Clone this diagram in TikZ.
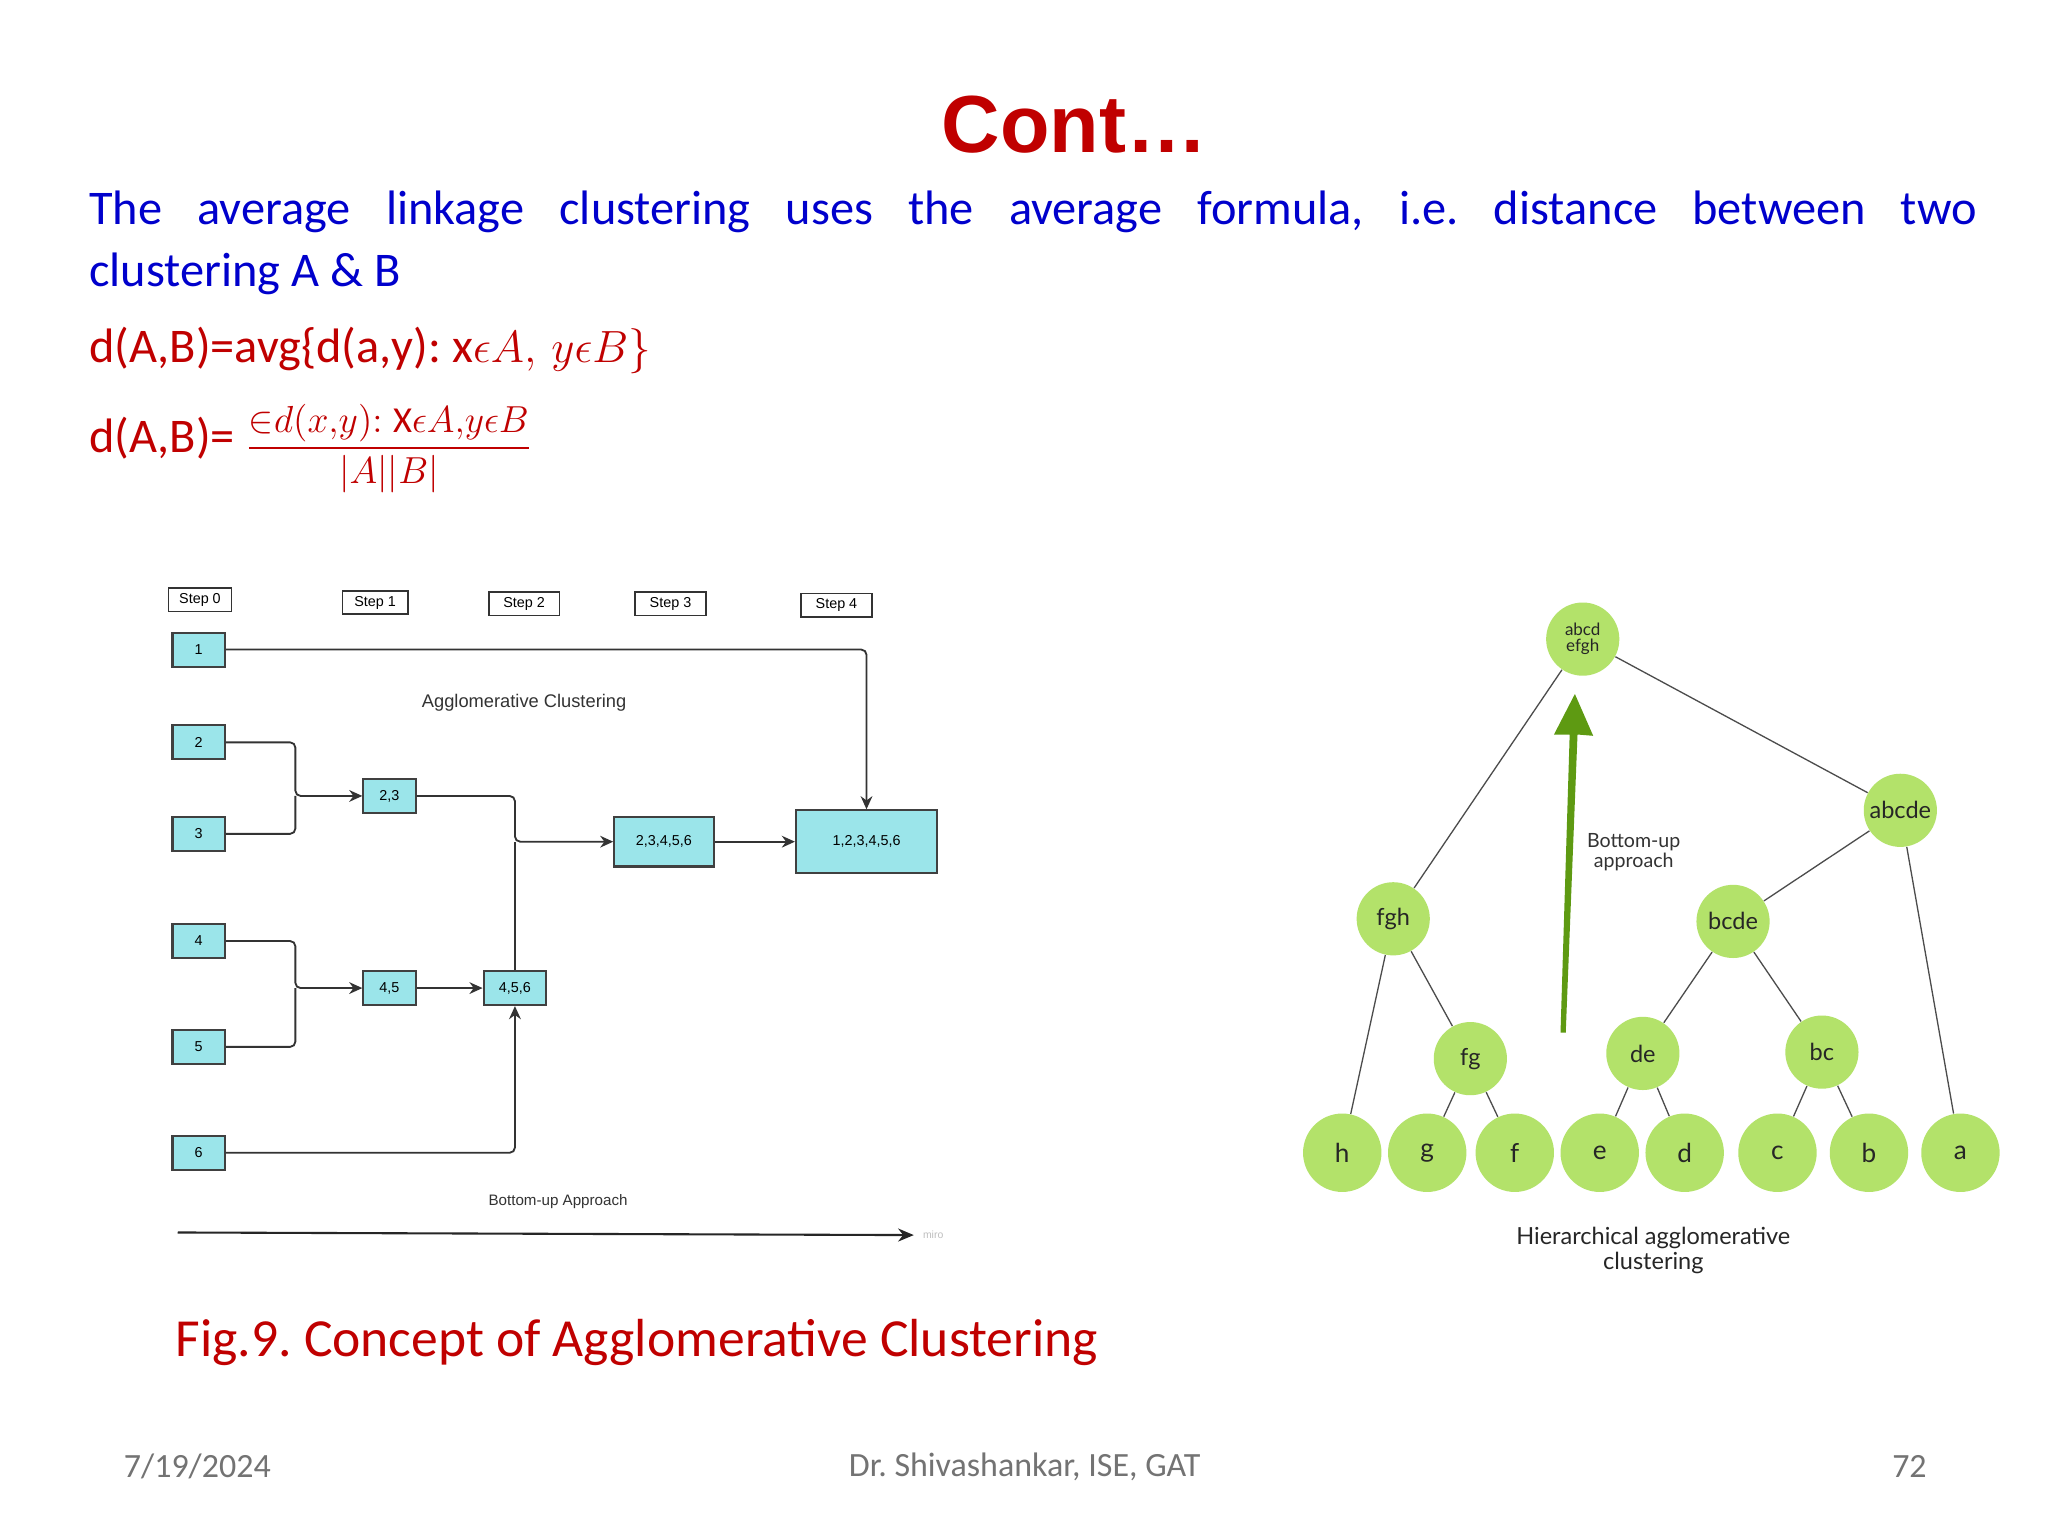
\documentclass[tikz,border=0pt]{standalone}
\usepackage{amsmath}
\usepackage{fontspec}
\setmainfont{Carlito}
\newfontfamily\arialf{Liberation Sans}
\newfontfamily\latof{Lato}
\usetikzlibrary{arrows.meta}
\definecolor{dred}{HTML}{C00000}
\definecolor{tblue}{HTML}{0000CC}
\definecolor{cyanb}{HTML}{9BE5EA}
\definecolor{leafg}{HTML}{B3E26A}
\definecolor{arrg}{HTML}{5E9A12}
\frenchspacing
\begin{document}
\begin{tikzpicture}[x=0.5pt,y=-0.5pt,
  stepbox/.style={draw=black!80,line width=0.6pt,fill=white,font=\arialf\fontsize{5.5}{6}\selectfont,minimum height=9pt,inner sep=1pt},
  cbox/.style={draw=black!75,line width=0.8pt,fill=cyanb,font=\arialf\fontsize{5.5}{6}\selectfont,minimum height=13pt,minimum width=20pt,inner sep=1pt},
  ln/.style={draw=black!80,line width=0.7pt,rounded corners=2pt},
  ar/.style={ln,-{Stealth[length=5pt,width=4.5pt]}},
  gc/.style={circle,fill=leafg,minimum size=28pt,inner sep=0pt,font=\latof\fontsize{9}{9}\selectfont,text=black!85},
  tl/.style={draw=black!70,line width=0.5pt}]
\useasboundingbox (0,0) rectangle (1567,1175.25);
\fill[white] (0,0) rectangle (1567,1175.25);
% title and text
\node[font=\arialf\bfseries\fontsize{31}{31}\selectfont,text=dred] (title) at (822,95) {Cont…};
\node[anchor=north west,inner sep=0pt,text=tblue,font=\fontsize{18.5}{23.5}\selectfont,text width=722pt,align=justify] (para) at (68,146) {The average linkage clustering uses the average formula, i.e. distance between two\linebreak clustering A \& B};
\node[anchor=west,inner sep=0pt,text=dred,font=\fontsize{18.5}{20}\selectfont] (f1) at (68,268) {d(A,B)=avg\{d(a,y): x$\epsilon A,\, y\epsilon B\}$};
\node[anchor=west,inner sep=0pt,text=dred,font=\fontsize{18.5}{20}\selectfont] (f2) at (68,343) {d(A,B)= \raisebox{-2pt}{\fontsize{14}{16}\selectfont$\dfrac{{\in}d(x{,}y)\mathrm{:X}\epsilon A{,}y\epsilon B}{|A||B|}$}};
% left diagram
\node[stepbox,minimum width=24pt] (s0) at (153,459) {Step 0};
\node[stepbox,minimum width=25pt] (s1) at (287,461) {Step 1};
\node[stepbox,minimum width=27pt] (s2) at (401,462) {Step 2};
\node[stepbox,minimum width=27pt] (s3) at (513,462) {Step 3};
\node[stepbox,minimum width=27pt] (s4) at (640,463) {Step 4};
\node[cbox] (n1) at (152,497) {1};
\node[cbox] (n2) at (152,568) {2};
\node[cbox] (n3) at (152,638) {3};
\node[cbox] (n4) at (152,720) {4};
\node[cbox] (n5) at (152,801) {5};
\node[cbox] (n6) at (152,882) {6};
\node[cbox] (n23) at (298,609) {2,3};
\node[cbox] (n45) at (298,756) {4,5};
\node[cbox,minimum width=24pt] (n456) at (394,756) {4,5,6};
\node[cbox,minimum width=38pt,minimum height=19pt] (n23456) at (508,644) {2,3,4,5,6};
\node[cbox,minimum width=54pt,minimum height=24pt] (nall) at (663,644) {1,2,3,4,5,6};
\draw[ar] (n1.east) -| (nall.north);
\draw[ar] (n2.east) -| (226,609) -- (n23.west);
\draw[ln] (n3.east) -| (226,609);
\draw[ar] (n4.east) -| (226,756) -- (n45.west);
\draw[ln] (n5.east) -| (226,756);
\draw[ar] (n45) -- (n456);
\draw[ar] (n6.east) -| (n456.south);
\draw[ar] (n23.east) -| (394,644) -- (n23456.west);
\draw[ln] (n456.north) -- (394,644);
\draw[ar] (n23456) -- (nall);
\node[font=\arialf\fontsize{7}{7}\selectfont,text=black!80] (ac) at (401,538) {Agglomerative Clustering};
\node[font=\arialf\fontsize{5.8}{6}\selectfont,text=black!80] (bu) at (427,919) {Bottom-up Approach};
\coordinate (la) at (136,943);
\node[font=\arialf\fontsize{4}{4}\selectfont,text=black!25] (miro) at (714,945) {miro};
\draw[draw=black!85,line width=0.8pt,-{Stealth[length=6pt,width=5pt]}] (la) -- (miro.west);
% tree
\node[gc,minimum size=28pt,font=\latof\fontsize{6.5}{6}\selectfont,align=center] (r) at (1211,489) {abcd\\efgh};
\node[gc] (abcde) at (1454,620) {abcde};
\node[gc] (fgh) at (1066,703) {fgh};
\node[gc] (bcde) at (1326,705) {bcde};
\node[gc] (fg) at (1125,810) {fg};
\node[gc] (de) at (1257,806) {de};
\node[gc] (bc) at (1394,805) {bc};
\foreach \n/\x in {h/1027,g/1092,f/1159,e/1224,d/1289,c/1360,b/1430,a/1500}{
  \node[gc,minimum size=30pt,font=\latof\fontsize{10}{10}\selectfont] (l\n) at (\x,882) {\n};}
\draw[tl] (r) -- (fgh); \draw[tl] (r) -- (abcde);
\draw[tl] (abcde) -- (bcde); \draw[tl] (abcde) -- (la);
\draw[tl] (fgh) -- (lh); \draw[tl] (fgh) -- (fg);
\draw[tl] (fg) -- (lg); \draw[tl] (fg) -- (lf);
\draw[tl] (bcde) -- (de); \draw[tl] (bcde) -- (bc);
\draw[tl] (de) -- (le); \draw[tl] (de) -- (ld);
\draw[tl] (bc) -- (lc); \draw[tl] (bc) -- (lb);
\fill[arrg] (1194,790) -- (1198,790) -- (1207,562) -- (1219,563) -- (1205,531) -- (1189,562) -- (1201,562) -- cycle;
\node[font=\latof\fontsize{7.5}{8}\selectfont,align=center,text=black!80] (bua) at (1250,652) {Bottom-up\\approach};
\node[font=\latof\fontsize{9}{9.5}\selectfont,align=center,text=black!85] (hac) at (1265,957) {Hierarchical agglomerative\\clustering};
% caption and footer
\node[anchor=west,inner sep=0pt,text=dred,font=\fontsize{20.5}{22}\selectfont] (cap) at (134,1027) {Fig.9. Concept of Agglomerative Clustering};
\node[text=black!55,font=\fontsize{13}{13}\selectfont] (date) at (151,1122) {7/19/2024};
\node[text=black!55,font=\fontsize{13}{13}\selectfont] (auth) at (784,1122) {Dr. Shivashankar, ISE, GAT};
\node[text=black!55,font=\fontsize{13}{13}\selectfont] (pg) at (1461,1122) {72};
\end{tikzpicture}
\end{document}
